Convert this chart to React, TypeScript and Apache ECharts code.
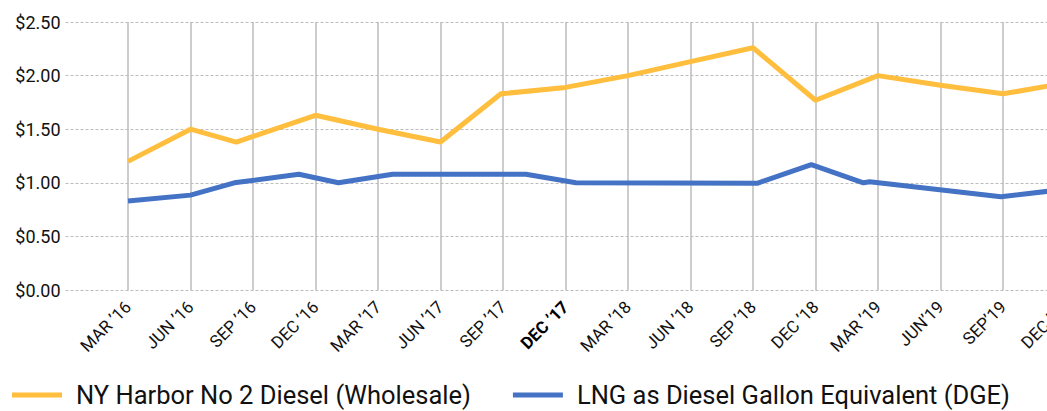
import React, { useEffect, useRef } from "react";
import * as echarts from "echarts";

// x = months since March 2016
const tickLabels = [
  "MAR ’16", "JUN ’16", "SEP ’16", "DEC ’16",
  "MAR ’17", "JUN ’17", "SEP ’17", "DEC ’17",
  "MAR ’18", "JUN ’18", "SEP ’18", "DEC ’18",
  "MAR ’19", "JUN’19", "SEP’19", "DEC ’19",
];
const boldLabel = "DEC ’17";

const dieselMonths = [0, 3, 5.2, 9, 12, 15, 17.9, 21, 24, 27, 30, 33, 36, 39, 42, 45];
const dieselValues = [1.2, 1.5, 1.38, 1.63, 1.5, 1.38, 1.83, 1.89, 2.0, 2.13, 2.26, 1.77, 2.0, 1.91, 1.83, 1.93];

const lngMonths = [0, 3, 5.1, 8.2, 10.1, 12.7, 19.1, 21.5, 30.2, 32.8, 35.3, 35.6, 41.9, 45];
const lngValues = [0.83, 0.885, 1.0, 1.08, 1.0, 1.08, 1.08, 1.0, 0.995, 1.17, 1.0, 1.01, 0.87, 0.94];

const seriesNames = ["NY Harbor No 2 Diesel (Wholesale)", "LNG as Diesel Gallon Equivalent (DGE)"];
const colors = ["#FFBE3D", "#4472C4"];

export default function App() {
  const ref = useRef<HTMLDivElement>(null);
  useEffect(() => {
    if (!ref.current) return;
    const chart = echarts.init(ref.current, undefined, { renderer: "svg" });
    const font = "Roboto";
    const splitColors = ["rgba(0,0,0,0)"];
    for (let i = 0; i < 30; i++) splitColors.push("#bdbdbd");
    chart.setOption({
      animation: false,
      backgroundColor: "#ffffff",
      grid: { left: 65.5, right: 12, top: 22, bottom: 121, outerBoundsMode: "none" },
      legend: {
        left: 7,
        top: 377,
        icon: "rect",
        itemWidth: 50,
        itemHeight: 5,
        itemGap: 42,
        textStyle: {
          fontFamily: font,
          fontSize: 25.5,
          lineHeight: 26,
          color: "#111",
          padding: [0, 0, 0, 9],
        },
        data: seriesNames,
      },
      xAxis: {
        type: "value",
        min: -3,
        max: 48,
        interval: 3,
        axisLine: { show: false },
        axisTick: { show: false },
        splitLine: { show: true, lineStyle: { color: splitColors, width: 1.5 } },
        axisLabel: {
          rotate: 45,
          margin: 14,
          fontFamily: font,
          fontSize: 17,
          color: "#111",
          showMinLabel: true,
          showMaxLabel: true,
          formatter: (v: number) => {
            const i = Math.round(v / 3);
            const t = i >= 0 && i < tickLabels.length ? tickLabels[i] : "";
            if (!t) return "";
            return t === boldLabel ? `{b|${t}}` : t;
          },
          rich: { b: { fontFamily: font, fontSize: 17, fontWeight: "bold", color: "#000" } },
        },
      },
      yAxis: {
        type: "value",
        min: 0,
        max: 2.5,
        interval: 0.5,
        axisLine: { show: false },
        axisTick: { show: false },
        splitLine: { show: true, lineStyle: { color: "#bdbdbd", type: [3, 2], width: 1 } },
        axisLabel: {
          margin: 5,
          fontFamily: font,
          fontSize: 18,
          color: "#111",
          formatter: (v: number) => `$${v.toFixed(2)}`,
        },
      },
      series: [
        {
          name: seriesNames[0],
          type: "line",
          symbol: "none",
          color: colors[0],
          lineStyle: { width: 5, color: colors[0] },
          data: dieselMonths.map((m, i) => [m, dieselValues[i]]),
        },
        {
          name: seriesNames[1],
          type: "line",
          symbol: "none",
          color: colors[1],
          lineStyle: { width: 5, color: colors[1] },
          data: lngMonths.map((m, i) => [m, lngValues[i]]),
        },
      ],
    });
    return () => chart.dispose();
  }, []);
  return (
    <div
      style={{
        position: "fixed",
        left: 0,
        top: 0,
        width: 1047,
        height: 411,
        overflow: "hidden",
        background: "#fff",
      }}
    >
      <div ref={ref} style={{ width: 1140, height: 411 }} />
    </div>
  );
}
